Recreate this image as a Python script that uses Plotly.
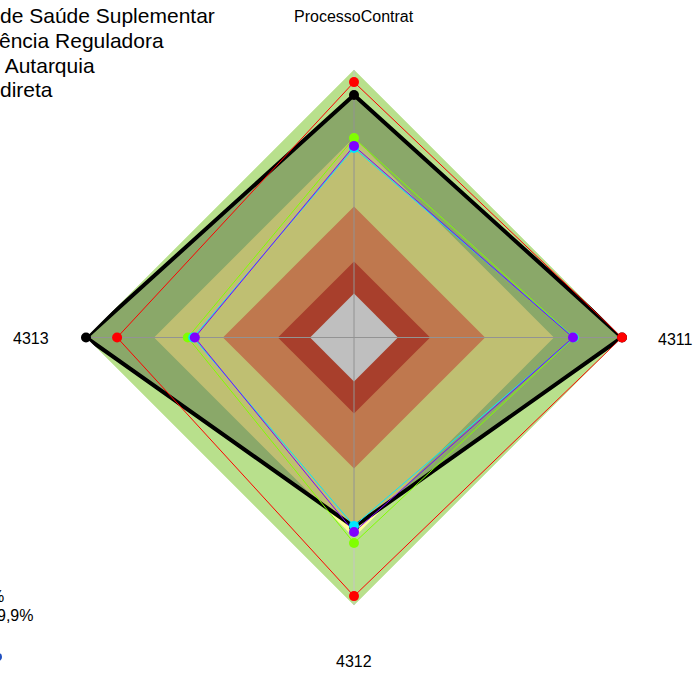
import plotly.graph_objects as go

W, H = 696, 673

# Axis categories (clockwise from top)
categories = ["ProcessoContrat", "4311", "4312", "4313"]

# Background bands (outer radius of each band, outermost first)
band_levels = [1.0, 0.746, 0.489, 0.284, 0.164]
band_colors = ["#B8E08C", "#FFFF99", "#FFA068", "#E0553B", "#FFFFFF"]

# Series values per category
serie_preta = [0.905, 1.0, 0.707, 1.0]
serie_verde = [0.744, 0.82, 0.767, 0.62]
serie_ciano = [0.707, 0.82, 0.703, 0.60]
serie_roxa = [0.715, 0.817, 0.726, 0.594]
serie_vermelha = [0.953, 1.0, 0.965, 0.884]

# Legend text visible at the top-left edge
legend_top = ["de Saúde Suplementar", "ência Reguladora", " Autarquia", "direta"]
# Legend text visible at the bottom-left edge
legend_bottom = ["%", "9,9%"]

FONT = "Liberation Sans, Arial, sans-serif"


def closed(vals):
    return list(vals) + [vals[0]]


theta = closed(categories)

fig = go.Figure()

# Concentric coloured bands
for lvl, col in zip(band_levels, band_colors):
    fig.add_trace(go.Scatterpolar(
        r=[lvl] * len(theta), theta=theta, mode="lines",
        fill="toself", fillcolor=col, line=dict(width=0, color=col),
        hoverinfo="skip", showlegend=False))

# Spokes along each axis
for c in categories:
    fig.add_trace(go.Scatterpolar(
        r=[0, band_levels[0]], theta=[c, c], mode="lines",
        line=dict(color="#C4C4C4", width=1),
        hoverinfo="skip", showlegend=False))

# Shaded area of the black series
fig.add_trace(go.Scatterpolar(
    r=closed(serie_preta), theta=theta, mode="none",
    fill="toself", fillcolor="rgba(0,0,0,0.25)",
    hoverinfo="skip", showlegend=False))

series = [
    (serie_preta, "#000000", 4.0),
    (serie_verde, "#80FF00", 1.0),
    (serie_ciano, "#00E5FF", 1.0),
    (serie_roxa, "#7F00FF", 1.0),
    (serie_vermelha, "#FF0000", 1.0),
]
for vals, col, lw in series:
    fig.add_trace(go.Scatterpolar(
        r=closed(vals), theta=theta, mode="lines",
        line=dict(color=col, width=lw),
        hoverinfo="skip", showlegend=False))
for vals, col, lw in series:
    fig.add_trace(go.Scatterpolar(
        r=vals, theta=categories, mode="markers",
        marker=dict(color=col, size=10, line=dict(width=0)),
        hoverinfo="skip", showlegend=False))

cx, cy, rad = 354, 337.5, 268


def px(x):
    return x / W


def py(y):
    return 1 - y / H


annotations = []
# Axis labels
axis_label_pos = [
    (354, 16, "center"),
    (656, 339, "left"),
    (354, 661, "center"),
    (31, 338, "center"),
]
for lab, (x, y, anc) in zip(categories, axis_label_pos):
    annotations.append(dict(
        text=lab, x=px(x), y=py(y), xref="paper", yref="paper",
        xanchor=anc, yanchor="middle", showarrow=False,
        font=dict(family=FONT, size=16, color="#000000")))

# Legend lines, top-left
for txt, (x, y) in zip(legend_top, [(-2, 15), (-3, 40), (-2, 65), (-2, 90)]):
    annotations.append(dict(
        text=txt, x=px(x), y=py(y), xref="paper", yref="paper",
        xanchor="left", yanchor="middle", showarrow=False,
        font=dict(family=FONT, size=21, color="#000000")))

# Legend lines, bottom-left
for txt, (x, y) in zip(legend_bottom, [(-12, 596), (-5, 615)]):
    annotations.append(dict(
        text=txt, x=px(x), y=py(y), xref="paper", yref="paper",
        xanchor="left", yanchor="middle", showarrow=False,
        font=dict(family=FONT, size=16, color="#000000")))

shapes = [
    dict(type="circle", xref="paper", yref="paper",
         x0=px(-6), x1=px(2), y0=py(661), y1=py(653),
         fillcolor="#1F4FC0", line=dict(width=0)),
]

fig.update_layout(
    width=W, height=H,
    margin=dict(l=0, r=0, t=0, b=0, autoexpand=False),
    paper_bgcolor="white", plot_bgcolor="white",
    showlegend=False,
    polar=dict(
        domain=dict(x=[(cx - rad) / W, (cx + rad) / W],
                    y=[1 - (cy + rad) / H, 1 - (cy - rad) / H]),
        gridshape="linear",
        bgcolor="white",
        radialaxis=dict(range=[0, 1], visible=False),
        angularaxis=dict(
            type="category", categoryarray=categories,
            rotation=90, direction="clockwise",
            showticklabels=False, showline=False, showgrid=False,
            ticks=""),
    ),
    annotations=annotations,
    shapes=shapes,
)

fig.write_html("out.html")
